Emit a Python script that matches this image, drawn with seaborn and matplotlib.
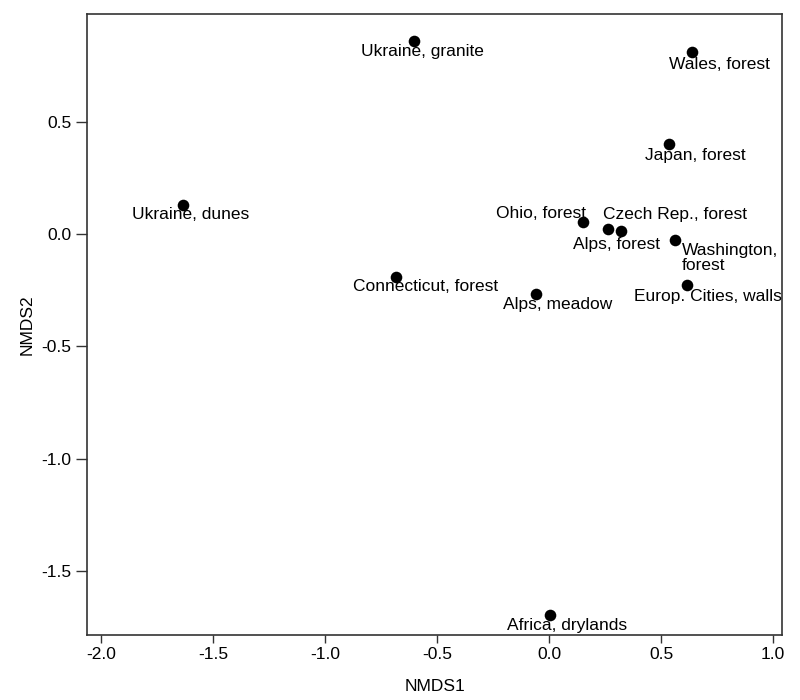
import matplotlib

matplotlib.use("Agg")
import matplotlib.pyplot as plt
import pandas as pd
import seaborn as sns


OUT_PATH = "out.png"

SITES = [
    "Ukraine, granite",
    "Wales, forest",
    "Japan, forest",
    "Ukraine, dunes",
    "Ohio, forest",
    "Alps, forest",
    "Czech Rep., forest",
    "Washington,\nforest",
    "Europ. Cities, walls",
    "Connecticut, forest",
    "Alps, meadow",
    "Africa, drylands",
]
NMDS1 = [-0.603, 0.637, 0.537, -1.633, 0.150, 0.265, 0.321, 0.562, 0.615, -0.683, -0.058, 0.004]
NMDS2 = [0.860, 0.811, 0.399, 0.129, 0.052, 0.022, 0.015, -0.027, -0.227, -0.190, -0.267, -1.696]

X_TICKS = [-2.0, -1.5, -1.0, -0.5, 0.0, 0.5, 1.0]
Y_TICKS = [-1.5, -1.0, -0.5, 0.0, 0.5]

# label placement relative to each dot, in pixels (dx, dy, ha)
LABEL_OFFSETS = {
    "Ukraine, granite": (8, -11, "center"),
    "Wales, forest": (28, -13, "center"),
    "Japan, forest": (26, -11, "center"),
    "Ukraine, dunes": (7, -10, "center"),
    "Ohio, forest": (-42, 9, "center"),
    "Alps, forest": (8, -15, "center"),
    "Czech Rep., forest": (54, 16, "center"),
    "Washington,\nforest": (7, -18, "left"),
    "Europ. Cities, walls": (21, -12, "center"),
    "Connecticut, forest": (30, -10, "center"),
    "Alps, meadow": (22, -11, "center"),
    "Africa, drylands": (17, -11, "center"),
}


def main() -> None:
    sns.set_theme(style="ticks")
    plt.rcParams["font.family"] = ["Liberation Sans", "DejaVu Sans"]

    df = pd.DataFrame({"site": SITES, "NMDS1": NMDS1, "NMDS2": NMDS2})

    fig = plt.figure(figsize=(8, 7), dpi=100)
    ax = fig.add_axes([0.10875, 0.0929, 0.86875, 0.8871])

    sns.scatterplot(
        data=df,
        x="NMDS1",
        y="NMDS2",
        color="black",
        s=70,
        edgecolor="black",
        linewidth=0,
        ax=ax,
    )

    for _, row in df.iterrows():
        dx, dy, ha = LABEL_OFFSETS[row["site"]]
        ax.annotate(
            row["site"],
            (row["NMDS1"], row["NMDS2"]),
            xytext=(dx, dy),
            textcoords="offset pixels",
            ha=ha,
            va="center",
            fontsize=12.5,
            color="black",
            linespacing=1.05,
        )

    ax.set_xlim(-2.0625, 1.04)
    ax.set_ylim(-1.785, 0.979)
    ax.set_xticks(X_TICKS)
    ax.set_yticks(Y_TICKS)
    ax.set_xticklabels([f"{v:.1f}" for v in X_TICKS])
    ax.set_yticklabels([f"{v:.1f}" for v in Y_TICKS])
    ax.tick_params(axis="both", direction="out", width=1, color="#333333",
                   labelsize=12.5, labelcolor="black", pad=3)
    ax.tick_params(axis="x", length=6)
    ax.tick_params(axis="y", length=8)
    for spine in ax.spines.values():
        spine.set_visible(True)
        spine.set_linewidth(1.2)
        spine.set_color("#333333")

    ax.set_xlabel("NMDS1", fontsize=12.5, color="black", labelpad=12)
    ax.set_ylabel("NMDS2", fontsize=12.5, color="black", labelpad=5)

    fig.savefig(OUT_PATH, dpi=100)
    plt.close(fig)


if __name__ == "__main__":
    main()
